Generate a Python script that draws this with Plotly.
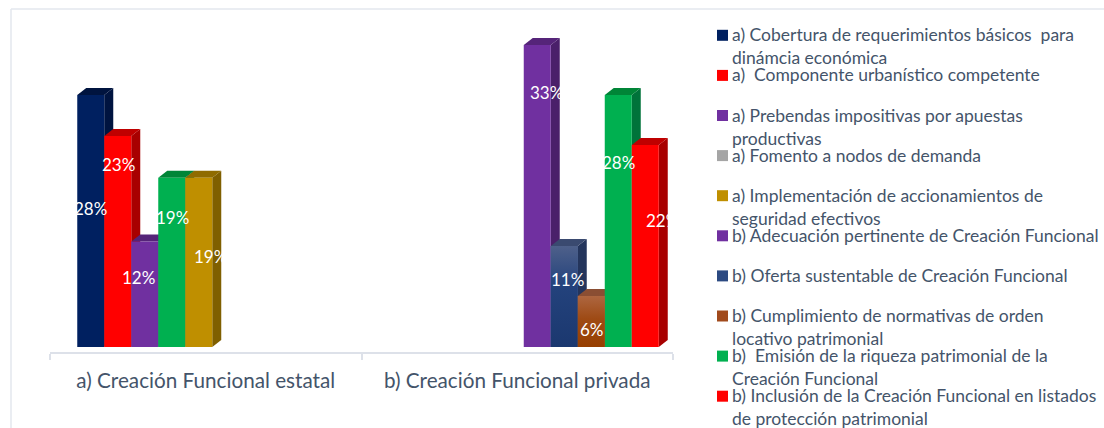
import plotly.graph_objects as go

categories = ["a) Creación Funcional estatal", "b) Creación Funcional privada"]
series_names = [
    "a) Cobertura de requerimientos básicos  para dinámcia económica",
    "a)  Componente urbanístico competente",
    "a) Prebendas impositivas por apuestas productivas",
    "a) Fomento a nodos de demanda",
    "a) Implementación de accionamientos de seguridad efectivos",
    "b) Adecuación pertinente de Creación Funcional",
    "b) Oferta sustentable de Creación Funcional",
    "b) Cumplimiento de normativas de orden locativo patrimonial",
    "b)  Emisión de la riqueza patrimonial de la Creación Funcional",
    "b) Inclusión de la Creación Funcional en listados de protección patrimonial",
]
legend_lines = [
    ["a) Cobertura de requerimientos básicos  para", "dinámcia económica"],
    ["a)  Componente urbanístico competente"],
    ["a) Prebendas impositivas por apuestas", "productivas"],
    ["a) Fomento a nodos de demanda"],
    ["a) Implementación de accionamientos de", "seguridad efectivos"],
    ["b) Adecuación pertinente de Creación Funcional"],
    ["b) Oferta sustentable de Creación Funcional"],
    ["b) Cumplimiento de normativas de orden", "locativo patrimonial"],
    ["b)  Emisión de la riqueza patrimonial de la", "Creación Funcional"],
    ["b) Inclusión de la Creación Funcional en listados", "de protección patrimonial"],
]
series_category = [0, 0, 0, 0, 0, 1, 1, 1, 1, 1]
series_values = [27.7, 23.2, 11.6, 18.6, 18.6, 33.2, 11.1, 5.6, 27.7, 22.2]
value_labels = ["28%", "23%", "12%", "19%", "19%", "33%", "11%", "6%", "28%", "22%"]

front_colors = ["#002060", "#FF0000", "#7030A0", "#00B050", "#BF8F00",
                "#7030A0", "#1F3C73", "#974000", "#00B050", "#FF0000"]
top_colors = ["#00143F", "#BF0000", "#552479", "#008537", "#8F6B00",
              "#552479", "#3A4A70", "#8A4E33", "#008537", "#BF0000"]
side_colors = ["#001440", "#A80000", "#4A206A", "#00733A", "#7F5F00",
               "#4A206A", "#24355C", "#6E3A1E", "#00733A", "#A80000"]
legend_colors = ["#002060", "#FF0000", "#7030A0", "#A5A5A5", "#BF8F00",
                 "#7030A0", "#2C4A82", "#A14A1C", "#00B050", "#FF0000"]
gradients = {
    6: [[0, "#1B386F"], [0.6, "#23427C"], [1, "#4E608A"]],
    7: [[0, "#973F00"], [0.55, "#9E4A14"], [1, "#AD6640"]],
}
label_shift_x = [-0.5, 0.5, -6, 1, 11.5, 9.5, 3.5, 0.5, 0.5, 17.5]
label_y_px = [208, 164, 277, 217, 256, 92, 279, 329, 162, 220]

W, H = 1104, 428
AX_L, AX_R, AX_BOTTOM, AX_TOP = 50, 673, 352, 20
PX_PER_UNIT_Y = 9.1
BASE_Y_PX = 347
cat_px = (AX_R - AX_L) / 2
bar_w = 27 / cat_px
depth_x = 9 / cat_px
depth_y = 7 / PX_PER_UNIT_Y
shift = 6.5 / cat_px
y_min = -(AX_BOTTOM - BASE_Y_PX) / PX_PER_UNIT_Y
y_max = y_min + (AX_BOTTOM - AX_TOP) / PX_PER_UNIT_Y
TEXT = "#44546A"
FONT = "Lato"


def offset(i):
    return -5 * bar_w + shift + i * bar_w


def poly(xs, ys, color, xaxis="x", gradient=None):
    kw = dict(fillcolor=color)
    if gradient:
        kw = dict(fillgradient=dict(type="vertical", colorscale=gradient,
                                    start=min(ys), stop=max(ys)))
    return go.Scatter(x=xs + xs[:1], y=ys + ys[:1], xaxis=xaxis, yaxis="y", mode="lines",
                      line=dict(width=0), fill="toself", hoverinfo="skip",
                      showlegend=False, **kw)


fig = go.Figure()

# back faces of every bar, left to right
for i, v in enumerate(series_values):
    left = series_category[i] + offset(i)
    right = left + bar_w
    fig.add_trace(poly([right, right + depth_x, right + depth_x, right],
                       [v, v + depth_y, depth_y, 0], side_colors[i]))
    fig.add_trace(poly([left, left + depth_x, right + depth_x, right],
                       [v, v + depth_y, v + depth_y, v], top_colors[i]))

# front faces
for i, v in enumerate(series_values):
    fig.add_trace(go.Bar(x=[categories[series_category[i]]], y=[v], name=series_names[i],
                         xaxis="x2", yaxis="y", width=bar_w, offset=offset(i),
                         marker=dict(color=front_colors[i], line=dict(width=0)),
                         showlegend=False))

# gradient-filled front faces
for i, g in gradients.items():
    v = series_values[i]
    left = series_category[i] + offset(i)
    fig.add_trace(poly([left, left, left + bar_w, left + bar_w], [0, v, v, 0],
                       front_colors[i], xaxis="x3", gradient=g))

annotations = []
for i, v in enumerate(series_values):
    annotations.append(dict(
        x=series_category[i] + offset(i) + bar_w / 2, xref="x",
        y=(BASE_Y_PX - label_y_px[i]) / PX_PER_UNIT_Y, yref="y",
        text=value_labels[i], showarrow=False, xshift=label_shift_x[i],
        font=dict(family=FONT, size=17, color="white"),
        xanchor="center", yanchor="middle"))

shapes = [
    dict(type="line", xref="paper", yref="paper", x0=11 / W, x1=11 / W, y0=0, y1=1 - 9 / H,
         line=dict(color="#E3E7EE", width=1.5)),
    dict(type="line", xref="paper", yref="paper", x0=11 / W, x1=1, y0=1 - 9 / H, y1=1 - 9 / H,
         line=dict(color="#E3E7EE", width=1.5)),
]

LEG_TOP, LEG_STEP, LINE_STEP = 35.3, 40.1, 23
for i, lines in enumerate(legend_lines):
    yc = LEG_TOP + i * LEG_STEP
    shapes.append(dict(type="rect", xref="paper", yref="paper",
                       x0=717 / W, x1=728 / W, y0=1 - (yc + 5.5) / H, y1=1 - (yc - 5.5) / H,
                       fillcolor=legend_colors[i], line=dict(width=0)))
    for k, line in enumerate(lines):
        annotations.append(dict(
            x=730 / W, xref="paper", y=1 - (yc + k * LINE_STEP - 0.5) / H, yref="paper",
            text=line, showarrow=False, xanchor="left", yanchor="middle",
            font=dict(family=FONT, size=17.5, color=TEXT)))

domain_x = [AX_L / W, AX_R / W]
domain_y = [1 - AX_BOTTOM / H, 1 - AX_TOP / H]
fig.update_layout(
    width=W, height=H, autosize=False,
    margin=dict(l=0, r=0, t=0, b=0),
    paper_bgcolor="white", plot_bgcolor="white",
    barmode="overlay", showlegend=False,
    font=dict(family=FONT, color=TEXT),
    xaxis=dict(domain=domain_x, range=[-0.5, 1.5], visible=False),
    xaxis2=dict(domain=domain_x, overlaying="x", anchor="y", side="bottom",
                type="category", categoryorder="array", categoryarray=categories,
                tickson="boundaries", ticks="outside", ticklen=6, tickwidth=1.5,
                tickcolor="#DDE1E9", showline=True, linecolor="#DDE1E9", linewidth=2,
                showgrid=False, zeroline=False, ticklabelstandoff=9,
                tickfont=dict(family=FONT, size=20.7, color=TEXT)),
    xaxis3=dict(domain=domain_x, overlaying="x", range=[-0.5, 1.5], visible=False),
    yaxis=dict(domain=domain_y, range=[y_min, y_max], visible=False),
    annotations=annotations, shapes=shapes,
)
fig.write_html("out.html", post_script="document.body.style.margin='0';",
               config=dict(displayModeBar=False))
